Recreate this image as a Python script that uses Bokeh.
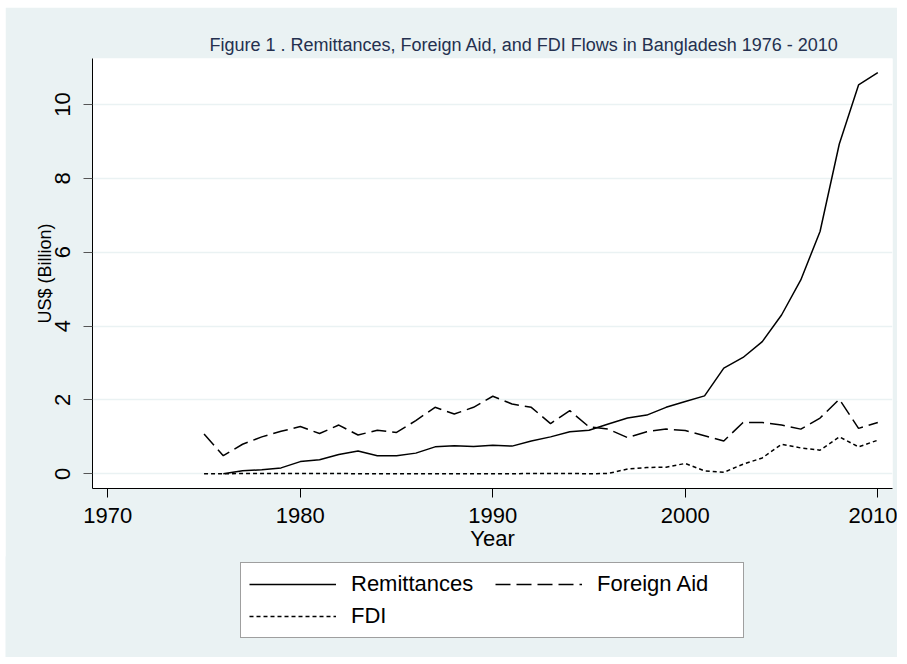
from bokeh.plotting import figure
from bokeh.models import Range1d, FixedTicker, Legend, LegendItem, Title
from bokeh.layouts import column
from bokeh.embed import file_html
from bokeh.resources import INLINE

# ---- data (US$ billion) ----
rem_years = list(range(1976, 2011))
remittances = [0.00, 0.08, 0.11, 0.16, 0.33, 0.38, 0.52, 0.62, 0.49, 0.49,
               0.56, 0.73, 0.76, 0.74, 0.77, 0.75, 0.89, 1.00, 1.14, 1.18,
               1.35, 1.51, 1.59, 1.80, 1.96, 2.11, 2.86, 3.15, 3.58, 4.30,
               5.25, 6.56, 8.93, 10.53, 10.86]

years = list(range(1975, 2011))
foreign_aid = [1.08, 0.49, 0.80, 1.00, 1.15, 1.28, 1.09, 1.32, 1.05, 1.18,
               1.12, 1.44, 1.80, 1.62, 1.80, 2.10, 1.89, 1.80, 1.36, 1.71,
               1.27, 1.21, 0.98, 1.14, 1.21, 1.17, 1.03, 0.89, 1.39, 1.39,
               1.32, 1.21, 1.51, 2.02, 1.23, 1.39]
fdi = [0.00, 0.00, 0.01, 0.01, 0.01, 0.01, 0.01, 0.01, 0.00, 0.00,
       0.00, 0.00, 0.00, 0.00, 0.00, 0.00, 0.00, 0.01, 0.01, 0.01,
       0.00, 0.01, 0.13, 0.17, 0.18, 0.28, 0.08, 0.04, 0.26, 0.43,
       0.80, 0.70, 0.64, 1.00, 0.73, 0.91]

series_names = ["Remittances", "Foreign Aid", "FDI"]
x_ticks = [1970, 1980, 1990, 2000, 2010]
y_ticks = [0, 2, 4, 6, 8, 10]

title_text = "Figure 1 . Remittances, Foreign Aid, and FDI Flows in Bangladesh 1976 - 2010"

BG = "#EAF2F3"
FONT = "Liberation Sans"
DASHES = ["solid", "15 6", "4 3"]

p = figure(frame_width=800, frame_height=430, output_backend="svg", toolbar_location=None,
           x_range=Range1d(1969.205, 2010.764), y_range=Range1d(-0.398, 11.245),
           min_border_left=87, min_border_right=5, min_border_top=51, min_border_bottom=69)
p.margin = (7, 0, 0, 5)
p.frame_align = False

p.border_fill_color = BG
p.background_fill_color = "white"
p.outline_line_color = None

t = Title(text=title_text, align="left", offset=117, standoff=8,
          text_font=FONT, text_font_size="18px", text_font_style="normal",
          text_color="#24304f")
p.add_layout(t, "above")

# grid
p.xgrid.grid_line_color = None
p.ygrid.ticker = FixedTicker(ticks=y_ticks)
p.ygrid.grid_line_color = BG
p.ygrid.grid_line_width = 1.5

# x axis
xa = p.xaxis[0]
xa.ticker = FixedTicker(ticks=x_ticks)
xa.axis_label = "Year"
xa.axis_line_color = "black"
xa.major_tick_line_color = "black"
xa.major_tick_out = 9
xa.major_tick_in = 0
xa.minor_tick_line_color = None
xa.major_label_text_font = FONT
xa.major_label_text_font_size = "22px"
xa.major_label_text_color = "black"
xa.major_label_standoff = 10
xa.axis_label_text_font = FONT
xa.axis_label_text_font_size = "22px"
xa.axis_label_text_font_style = "normal"
xa.axis_label_text_color = "black"
xa.axis_label_standoff = 0

# y axis
ya = p.yaxis[0]
ya.ticker = FixedTicker(ticks=y_ticks)
ya.axis_label = "US$ (Billion)"
ya.axis_line_color = "black"
ya.major_tick_line_color = "#555555"
ya.major_tick_out = 9
ya.major_tick_in = 0
ya.minor_tick_line_color = None
ya.major_label_orientation = "vertical"
ya.major_label_text_font = FONT
ya.major_label_text_font_size = "22px"
ya.major_label_text_color = "black"
ya.major_label_standoff = 13
ya.axis_label_text_font = FONT
ya.axis_label_text_font_size = "18px"
ya.axis_label_text_font_style = "normal"
ya.axis_label_text_color = "black"
ya.axis_label_standoff = -2

series = {"Remittances": (rem_years, remittances),
          "Foreign Aid": (years, foreign_aid),
          "FDI": (years, fdi)}

for name, dash in zip(series_names, DASHES):
    xs, ys = series[name]
    p.line(xs, ys, line_color="black", line_width=1.5, line_dash=dash)

# ---- legend strip below the plot (same background); its ranges keep the
# key lines out of view so only the legend samples show ----
p2 = figure(width=892, height=101, output_backend="svg", toolbar_location=None,
            x_range=Range1d(0, 1), y_range=Range1d(-100, -99),
            x_axis_location=None, y_axis_location=None,
            min_border_left=0, min_border_right=0, min_border_top=0, min_border_bottom=0)
p2.margin = (-1, 0, 0, 5)
p2.frame_align = False
p2.border_fill_color = BG
p2.background_fill_color = BG
p2.outline_line_color = None
p2.xgrid.grid_line_color = None
p2.ygrid.grid_line_color = None

keys = {}
for name, dash in zip(series_names, DASHES):
    xs, ys = series[name]
    keys[name] = p2.line(xs, ys, line_color="black", line_width=1.5, line_dash=dash)

# column-major layout: column 1 = Remittances, FDI ; column 2 = Foreign Aid
legend = Legend(items=[LegendItem(label="Remittances", renderers=[keys["Remittances"]]),
                       LegendItem(label="FDI", renderers=[keys["FDI"]]),
                       LegendItem(label="Foreign Aid", renderers=[keys["Foreign Aid"]])],
                location=(235, 19), orientation="vertical", nrows=2,
                glyph_width=87, glyph_height=20, label_height=20, label_width=138,
                label_standoff=15, padding=8, spacing=6, margin=0,
                label_text_font=FONT, label_text_font_size="22px",
                label_text_color="black",
                border_line_color="#404040", border_line_width=1,
                background_fill_color="white", background_fill_alpha=1.0)
p2.add_layout(legend, "center")

layout = column(p, p2, spacing=0)
open("out.html", "w").write(file_html(layout, INLINE))
